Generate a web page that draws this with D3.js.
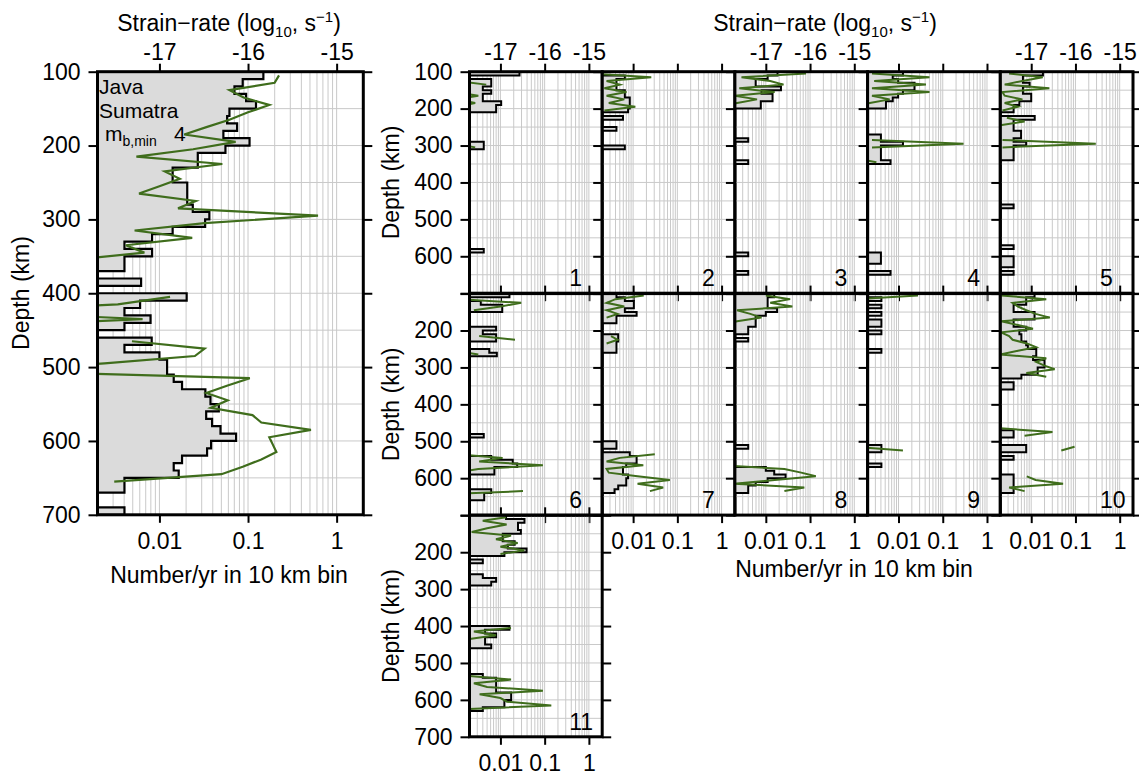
<!DOCTYPE html>
<html>
<head>
<meta charset="utf-8">
<script src="https://cdn.jsdelivr.net/npm/d3@7"></script>
<style>
  body { margin: 0; background: #fff; }
  svg text { font-family: "Liberation Sans", Arial, Helvetica, sans-serif; fill: #000; }
</style>
</head>
<body>
<svg id="chart" width="1139" height="776"></svg>
<script>
// ---- axis values ----
const depthTicks = [100, 200, 300, 400, 500, 600, 700];
const rateTicks = [0.01, 0.1, 1];
const rateLabels = ["0.01", "0.1", "1"];
const strainTicks = [-17, -16, -15];
const strainLabels = ["-17", "-16", "-15"];

// ---- Java-Sumatra, all events: [bin top (km), number/yr] ----
const mainCounts = [[100,0.149],[110,0.0871],[120,0.0703],[130,0.0951],[140,0.123],[150,0.0617],[160,0.0581],[170,0.0753],[180,0.0527],[190,0.104],[200,0.0556],[210,0.0271],[220,0.0271],[230,0.0141],[240,0.0141],[250,0.0206],[260,0.0206],[270,0.0206],[280,0.0238],[290,0.0366],[300,0.0328],[310,0.0141],[320,0.00826],[330,0.00403],[340,0.00826],[350,0.00403],[360,0.00403],[380,0.00621],[400,0.0203],[410,0.00605],[420,0.00403],[430,0.00794],[440,0.00403],[460,0.00818],[470,0.00403],[480,0.01],[490,0.0122],[500,0.0122],[510,0.0145],[520,0.018],[530,0.033],[540,0.0377],[550,0.0468],[560,0.0337],[570,0.0393],[580,0.0489],[590,0.0733],[600,0.0383],[610,0.0345],[620,0.018],[630,0.0145],[640,0.0165],[650,0.00403],[660,0.00403],[690,0.00403]];
// strain-rate: [bin centre (km), log10 s^-1], null breaks the line
const mainStrain = [[105,-15.65],[115,-15.70],[125,-16.21],[135,-16.05],[145,-15.76],[155,-16.00],[165,-16.21],[175,-16.47],[185,-16.72],[195,-16.14],[205,-16.62],[215,-17.26],[225,-16.29],[235,-16.94],[245,-16.77],[255,-17.00],[265,-17.23],[275,-16.59],[285,-16.79],[295,-15.21],[305,-16.49],[315,-17.28],[325,-16.63],[335,-17.38],[345,-17.17],[355,-18.0],[365,null],[395,null],[405,-16.88],[415,-17.47],[425,-19],[435,-17.19],[445,-19],[455,null],[465,-17.31],[475,-16.49],[485,-16.60],[495,-17.62],[505,-19],[515,-15.98],[525,-16.23],[535,-16.47],[545,-16.23],[555,-16.42],[565,-15.95],[575,-15.85],[585,-15.29],[595,-15.76],[605,-15.72],[615,-15.68],[625,-15.85],[635,-16.06],[645,-16.30],[655,-17.51]];

// ---- regional subsets 1-11 ----
const counts1 = [[100,0.027],[120,0.0062],[130,0.0062],[140,0.004],[150,0.0062],[160,0.004],[170,0.004],[180,0.0104],[190,0.008],[200,0.008],[290,0.0042],[300,0.0042],[580,0.0042]];
const strain1 = [[125,-18],[135,-17.32],[145,null],[155,-18],[165,-17.5],[175,-18],[185,-17.57],[195,-18],[205,null],[295,-18],[305,-17.57],[315,null]];

const counts2 = [[110,0.0065],[120,0.0042],[130,0.0042],[140,0.0042],[150,0.0065],[160,0.0065],[170,0.0084],[180,0.0084],[190,0.0084],[200,0.0077],[220,0.0059],[250,0.0042],[300,0.0065]];
const strain2 = [[105,-18],[115,-16.59],[125,-17.6],[135,-17.3],[145,-17.65],[155,-17.15],[165,-17.6],[175,-17.2],[185,-17.55],[195,-16.95],[205,-17.65],[215,null]];

const counts3 = [[100,0.0184],[110,0.011],[120,0.0059],[130,0.0059],[140,0.022],[150,0.008],[160,0.0142],[170,0.0142],[180,0.0077],[190,0.0077],[280,0.004],[340,0.004],[590,0.004],[640,0.004]];
const strain3 = [[105,-16.09],[115,-17.55],[125,-16.9],[135,-16.6],[145,-17.6],[155,-16.8],[165,-17.7],[175,-17.2],[185,-17.65],[195,-18]];

const counts4 = [[100,0.0126],[110,0.0074],[120,0.0098],[130,0.023],[140,0.023],[150,0.0126],[160,0.0098],[170,0.0074],[180,0.0052],[190,0.0052],[270,0.004],[280,0.004],[290,0.0126],[300,0.004],[310,0.004],[320,0.004],[330,0.004],[340,0.0066],[590,0.004],[600,0.004],[610,0.004],[640,0.0066]];
const strain4 = [[105,-17.6],[115,-16.3],[125,-17.55],[135,-16.38],[145,-17.6],[155,-16.3],[165,-17.6],[175,-17.2],[185,-17.65],[195,-18],[205,null],[285,-17.6],[295,-15.53],[305,-17.6],[315,null],[335,-18],[345,-17.5],[355,null]];

const counts5 = [[100,0.0184],[110,0.0065],[120,0.0065],[130,0.0092],[140,0.0065],[150,0.0065],[160,0.01],[170,0.01],[180,0.0054],[190,0.004],[200,0.004],[220,0.012],[230,0.004],[240,0.004],[250,0.004],[260,0.0059],[270,0.0059],[280,0.004],[290,0.0077],[300,0.004],[310,0.004],[320,0.004],[330,0.004],[460,0.004],[570,0.004],[600,0.004],[610,0.004],[620,0.004],[640,0.004]];
const strain5 = [[105,-17.5],[115,-16.74],[125,-17.2],[135,-17.6],[145,-16.59],[155,-17.65],[165,-17.6],[175,-17.2],[185,-17.6],[195,-17.3],[205,-17.65],[215,null],[225,-17.55],[235,-17.15],[245,-17.7],[255,null],[285,-17.65],[295,-15.54],[305,-17.65],[315,null]];

const counts6 = [[100,0.016],[120,0.0036],[130,0.011],[140,0.011],[190,0.008],[200,0.004],[210,0.008],[220,0.008],[250,0.0056],[260,0.0083],[480,0.0042],[540,0.0062],[550,0.019],[560,0.024],[570,0.0073],[580,0.0073],[630,0.0062],[640,0.0043],[650,0.0043]];
const strain6 = [[115,-18],[125,-16.53],[135,-17.0],[145,-17.6],[155,null],[205,null],[215,-17.48],[225,-16.67],[235,null],[255,-18],[265,-17.5],[275,null],[525,null],[535,-18],[545,-16.95],[555,-17.48],[565,-16.04],[575,-17.5],[585,-18],[595,null],[625,null],[635,-16.49],[645,-18.5]];

const counts7 = [[100,0.0042],[110,0.0065],[120,0.0104],[130,0.0104],[140,0.0065],[150,0.012],[160,0.0042],[170,0.0042],[210,0.0046],[220,0.0046],[230,0.0042],[240,0.0042],[250,0.0042],[500,0.0042],[510,0.0042],[530,0.0084],[540,0.012],[550,0.012],[560,0.007],[570,0.0059],[580,0.0059],[590,0.0077],[600,0.007],[610,0.007],[620,0.0046],[630,0.0038]];
const strain7 = [[105,-16.76],[115,-17.4],[125,-17.6],[135,-17.2],[145,-17.6],[155,-17.35],[165,-17.6],[175,null],[215,-17.5],[225,-17.35],[235,-17.6],[245,null],[525,null],[535,-16.51],[545,-17.3],[555,-17.6],[565,-16.77],[575,-17.6],[585,-17.55],[595,-16.9],[605,-16.17],[615,-16.9],[625,-16.32],[635,-16.62]];

const counts8 = [[100,0.0155],[110,0.011],[120,0.011],[130,0.011],[140,0.018],[150,0.010],[160,0.0059],[170,0.0059],[180,0.0059],[190,0.004],[200,0.004],[220,0.004],[510,0.004],[570,0.010],[580,0.0155],[590,0.028],[600,0.011],[610,0.0059],[620,0.004],[630,0.004]];
const strain8 = [[105,-17.0],[115,-16.45],[125,-16.9],[135,-16.4],[145,-17.65],[155,-17.35],[165,-17.1],[175,-17.65],[185,-18],[195,null],[565,-18],[575,-16.58],[585,-16.2],[595,-15.87],[605,-16.8],[615,-17.72],[625,-16.13],[635,-16.58],[645,null]];

const counts9 = [[110,0.0041],[130,0.0041],[150,0.0041],[170,0.0041],[180,0.0041],[200,0.0041],[250,0.0041],[510,0.0041],[520,0.0041],[560,0.0041]];
const strain9 = [[105,-16.56],[115,-18],[125,null],[505,null],[515,-18],[525,-16.9],[535,null]];

const counts10 = [[100,0.0119],[110,0.0077],[120,0.0077],[130,0.004],[140,0.004],[150,0.0119],[160,0.0119],[170,0.004],[180,0.004],[190,0.0077],[200,0.0054],[210,0.006],[220,0.006],[230,0.0077],[240,0.0084],[250,0.013],[260,0.013],[270,0.011],[280,0.02],[290,0.02],[300,0.014],[310,0.014],[320,0.006],[340,0.004],[350,0.004],[470,0.004],[480,0.004],[510,0.0077],[520,0.0077],[540,0.004],[590,0.004],[600,0.004],[610,0.004],[620,0.004],[630,0.004]];
const strain10 = [[105,-17.68],[115,-16.66],[125,-17.42],[135,-17.3],[145,-17.11],[155,-16.9],[165,-16.58],[175,-17.68],[185,-17.3],[195,-16.96],[205,-17.68],[215,-17.5],[225,-17.42],[235,-17.1],[245,-16.89],[255,-17.3],[265,-17.7],[275,-16.66],[285,-16.89],[295,-16.7],[305,-16.47],[315,-17.11],[325,-16.66],[335,null],[465,-17.7],[475,-16.52],[485,-17.15],[495,null],[505,null],[515,-16.02],[525,-16.32],[535,null],[585,null],[595,-17.1],[605,-16.9],[615,-16.28],[625,-17.5],[635,-17.15],[645,null]];

const counts11 = [[100,0.0134],[110,0.035],[120,0.025],[130,0.025],[140,0.029],[150,0.0113],[160,0.0113],[170,0.021],[180,0.0147],[190,0.039],[200,0.0123],[220,0.004],[260,0.004],[270,0.008],[280,0.0062],[400,0.016],[410,0.0045],[420,0.008],[430,0.0045],[440,0.0045],[450,0.0062],[530,0.004],[540,0.008],[550,0.008],[560,0.008],[570,0.008],[580,0.0175],[590,0.0175],[600,0.0123],[610,0.0123],[620,0.004]];
const strain11 = [[105,-16.87],[115,-17.4],[125,-16.86],[135,-17.3],[145,-17.65],[155,-16.76],[165,-17.1],[175,-16.61],[185,-17.0],[195,-16.46],[205,-17.0],[215,null],[395,null],[405,-16.76],[415,-17.6],[425,-17.1],[435,-17.7],[445,null],[525,null],[535,-17.7],[545,-16.76],[555,-17.6],[565,-17.3],[575,-16.04],[585,-17.47],[595,-17.0],[605,-16.85],[615,-15.85],[625,-17.7],[635,null]];

const regionCounts = [counts1, counts2, counts3, counts4, counts5, counts6, counts7, counts8, counts9, counts10, counts11];
const regionStrain = [strain1, strain2, strain3, strain4, strain5, strain6, strain7, strain8, strain9, strain10, strain11];
const regionNames = ["1","2","3","4","5","6","7","8","9","10","11"];

// ---- styling ----
const FONT = 23;
const GREEN = "#3f6d1c";
const FILL = "#dbdbdb";
const GRID = "#c9c9c9";
const RATE_MIN = 0.002, RATE_MAX = 2;

const svg = d3.select("#chart");
const defs = svg.append("defs");
let clipId = 0;

// step outline of the histogram, one closed shape per run of non-empty bins
function histogramPath(counts, x, y) {
  const sorted = counts.slice().sort((a, b) => a[0] - b[0]);
  const runs = [];
  let cur = [];
  sorted.forEach(d => {
    if (cur.length && d[0] - cur[cur.length - 1][0] !== 10) { runs.push(cur); cur = []; }
    cur.push(d);
  });
  if (cur.length) runs.push(cur);
  const x0 = x.range()[0];
  const p = d3.path();
  runs.forEach(run => {
    p.moveTo(x0, y(run[0][0]));
    let yy = y(run[0][0]);
    run.forEach(d => {
      p.lineTo(x(d[1]), yy);
      yy = y(d[0] + 10);
      p.lineTo(x(d[1]), yy);
    });
    p.lineTo(x0, yy);
    p.closePath();
  });
  return p.toString();
}

function styleAxis(g, width) {
  g.select(".domain").remove();
  g.attr("font-size", FONT).attr("font-family", null);
  g.selectAll(".tick line").attr("stroke", "#000").attr("stroke-width", width);
  g.selectAll(".tick text").attr("fill", "#000");
}

function drawPanel(o) {
  const g = svg.append("g");
  const x = d3.scaleLog().domain([RATE_MIN, RATE_MAX]).range([o.x0, o.x0 + o.w]);
  const sx = d3.scaleLinear()
    .domain([Math.log10(RATE_MIN) - 15, Math.log10(RATE_MAX) - 15])
    .range([o.x0, o.x0 + o.w]);
  const y = d3.scaleLinear().domain([100, 700]).range([o.y0, o.y0 + o.h]);

  const id = "clip" + (clipId++);
  defs.append("clipPath").attr("id", id)
    .append("rect").attr("x", o.x0).attr("y", o.y0).attr("width", o.w).attr("height", o.h);

  // grid
  const grid = g.append("g").attr("stroke", GRID).attr("stroke-width", 1);
  grid.selectAll("line.v").data(x.ticks()).join("line")
    .attr("x1", d => x(d)).attr("x2", d => x(d))
    .attr("y1", o.y0).attr("y2", o.y0 + o.h);
  grid.selectAll("line.h").data(d3.range(150, 700, 50)).join("line")
    .attr("x1", o.x0).attr("x2", o.x0 + o.w)
    .attr("y1", d => y(d)).attr("y2", d => y(d));

  const inner = g.append("g").attr("clip-path", `url(#${id})`);
  // event-rate histogram
  inner.append("path")
    .attr("d", histogramPath(o.counts, x, y))
    .attr("fill", FILL).attr("stroke", "#000")
    .attr("stroke-width", o.histWidth).attr("stroke-linejoin", "miter");
  // strain-rate profile
  const line = d3.line()
    .defined(d => d[1] !== null)
    .x(d => sx(d[1])).y(d => y(d[0]));
  inner.append("path").attr("d", line(o.strain))
    .attr("fill", "none").attr("stroke", GREEN)
    .attr("stroke-width", o.lineWidth).attr("stroke-linejoin", "miter");

  // frame
  g.append("rect").attr("x", o.x0).attr("y", o.y0).attr("width", o.w).attr("height", o.h)
    .attr("fill", "none").attr("stroke", "#000").attr("stroke-width", 3);

  // axes (outward ticks)
  g.append("g").attr("transform", `translate(${o.x0},0)`)
    .call(d3.axisLeft(y).tickValues(depthTicks).tickSize(9).tickPadding(8)
      .tickFormat(d => o.leftLabels.includes(d) ? String(d) : ""))
    .call(a => styleAxis(a, 2));
  if (o.rightTicks) {
    g.append("g").attr("transform", `translate(${o.x0 + o.w},0)`)
      .call(d3.axisRight(y).tickValues(depthTicks).tickSize(9).tickFormat(() => ""))
      .call(a => styleAxis(a, 2));
  }
  g.append("g").attr("transform", `translate(0,${o.y0})`)
    .call(d3.axisTop(sx).tickValues(strainTicks).tickSize(8).tickPadding(4)
      .tickFormat((d, i) => o.topLabels ? strainLabels[i] : ""))
    .call(a => styleAxis(a, 2));
  g.append("g").attr("transform", `translate(0,${o.y0 + o.h})`)
    .call(d3.axisBottom(x).tickValues(rateTicks).tickSize(8).tickPadding(10)
      .tickFormat((d, i) => o.bottomLabels ? rateLabels[i] : ""))
    .call(a => styleAxis(a, 2));

  if (o.name) {
    g.append("text").attr("x", o.x0 + o.w - 33).attr("y", o.y0 + o.h - 7)
      .attr("font-size", FONT).text(o.name);
  }
  return g;
}

function strainTitle(cx, by) {
  const t = svg.append("text").attr("x", cx).attr("y", by)
    .attr("text-anchor", "middle").attr("font-size", FONT);
  t.append("tspan").text("Strain\u2212rate (log");
  t.append("tspan").attr("font-size", 15).attr("dy", 6).text("10");
  t.append("tspan").attr("dy", -6).text(", s");
  t.append("tspan").attr("font-size", 15).attr("dy", -9).text("\u22121");
  t.append("tspan").attr("dy", 9).text(")");
}

function depthTitle(bx, cy) {
  svg.append("text").attr("transform", `translate(${bx},${cy}) rotate(-90)`)
    .attr("text-anchor", "middle").attr("font-size", FONT).text("Depth (km)");
}

// ---- whole region ----
drawPanel({
  x0: 97.5, y0: 71.7, w: 265.8, h: 443.1,
  counts: mainCounts, strain: mainStrain,
  leftLabels: depthTicks, rightTicks: true, topLabels: true, bottomLabels: true,
  histWidth: 2.2, lineWidth: 2.2
});
strainTitle(229, 31);
depthTitle(29, 293);
svg.append("text").attr("x", 229).attr("y", 583).attr("text-anchor", "middle")
  .attr("font-size", FONT).text("Number/yr in 10 km bin");

// region tag in the upper-left corner of the main panel
const TAG = 21;
const tagLines = svg.append("g").attr("font-size", TAG);
tagLines.append("text").attr("x", 99).attr("y", 94).text("Java");
tagLines.append("text").attr("x", 99).attr("y", 117.5).text("Sumatra");
const mb = tagLines.append("text").attr("x", 105).attr("y", 141);
mb.append("tspan").text("m");
mb.append("tspan").attr("font-size", 14).attr("dy", 5).text("b,min");
mb.append("tspan").attr("x", 174).attr("dy", -5).text("4");

// ---- regional panels ----
const colX = [469.5, 602.2, 734.9, 867.6, 1000.3];
const rowY = [71.7, 293.6, 515.3];
const PW = 132.7, PH = 221.5;
const rowLabels = [[100, 200, 300, 400, 500, 600], [200, 300, 400, 500, 600], [200, 300, 400, 500, 600, 700]];

regionNames.forEach((name, i) => {
  const row = Math.floor(i / 5), col = i % 5;
  drawPanel({
    x0: colX[col], y0: rowY[row], w: PW, h: PH,
    counts: regionCounts[i], strain: regionStrain[i],
    leftLabels: col === 0 ? rowLabels[row] : [],
    rightTicks: col === 4 || i === 10,
    topLabels: row === 0 && col % 2 === 0,
    bottomLabels: (row === 1 && col > 0) || row === 2,
    histWidth: 2, lineWidth: 2, name: name
  });
});
rowY.forEach(r => depthTitle(399, r + PH / 2));
strainTitle(825, 31);
svg.append("text").attr("x", 854).attr("y", 577).attr("text-anchor", "middle")
  .attr("font-size", FONT).text("Number/yr in 10 km bin");
</script>
</body>
</html>
